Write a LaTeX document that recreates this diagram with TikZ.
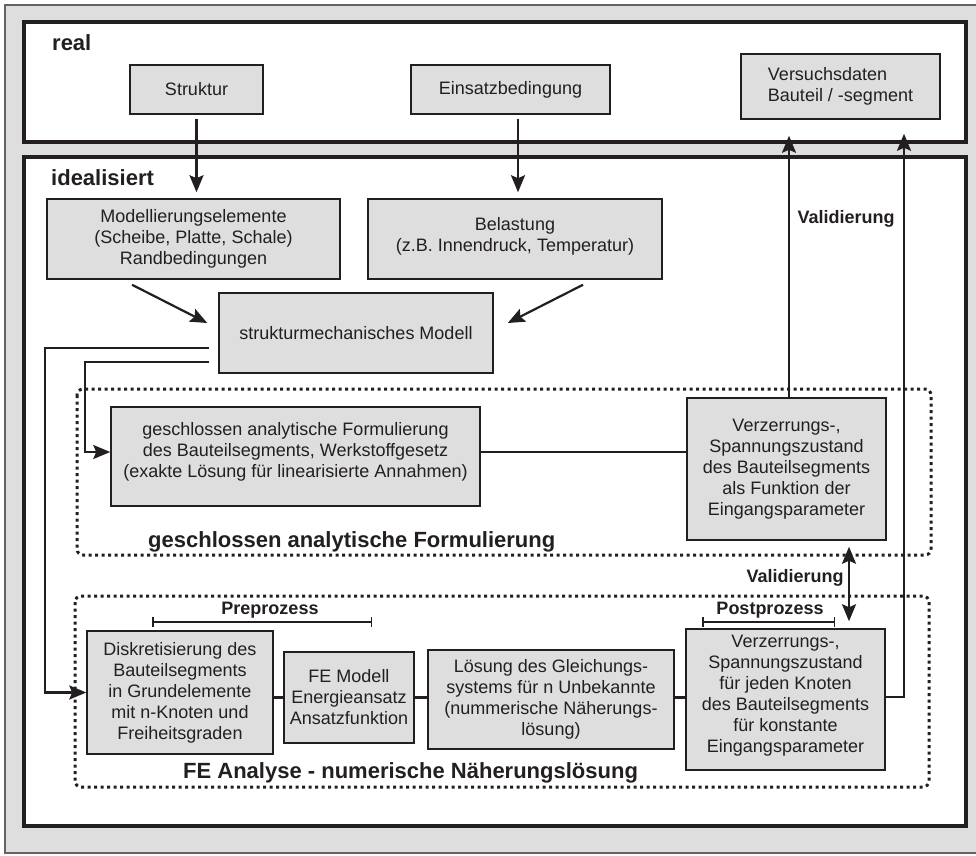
\documentclass[tikz,border=0pt]{standalone}
\usepackage{fontspec}
\setmainfont{Liberation Sans}
\usetikzlibrary{arrows.meta,calc}
\definecolor{bgray}{RGB}{222,222,222}
\definecolor{ink}{RGB}{35,31,32}
\begin{document}
\begin{tikzpicture}[x=1pt,y=-1pt,
 box/.style={draw=ink, line width=1.5pt, fill=bgray, inner sep=0pt, align=center, font=\fontsize{18}{21}\selectfont, text=ink},
 txt/.style={inner sep=0pt, align=center, font=\fontsize{18}{21}\selectfont, text=ink},
 conn/.style={draw=ink, line width=2.2pt},
 arr/.style={conn, -{Stealth[length=17pt,width=14pt,inset=3pt]}},
 dbl/.style={conn, {Stealth[length=17pt,width=14pt,inset=3pt]}-{Stealth[length=17pt,width=14pt,inset=3pt]}},
 brack/.style={draw=ink, line width=1.5pt, {Bar[width=10pt,line width=1.5pt]}-{Bar[width=10pt,line width=1.5pt]}},
 dotbox/.style={draw=ink, line width=3pt, dash pattern=on 3pt off 3.5pt, rounded corners=6pt},
 blabel/.style={inner sep=0pt, font=\fontsize{22}{26}\selectfont\bfseries, text=ink, anchor=base west},
 slabel/.style={inner sep=0pt, font=\fontsize{18}{21}\selectfont\bfseries, text=ink, anchor=base},
 region/.style={draw=ink, line width=4pt, fill=white}
]
\useasboundingbox (0,0) rectangle (976,855);
% background
\draw[fill=bgray, draw=ink!70, line width=1.5pt] (5,5) rectangle (990,853);
\draw[region] (24,22) rectangle (966,142);
\draw[region] (24,157) rectangle (966,826);
% region labels
\node[blabel] (lreal) at (52,50) {real};
\node[blabel] (lideal) at (51,185) {idealisiert};
% dotted groups
\draw[dotbox] (77,389) rectangle (931,555);
\draw[dotbox] (75,596) rectangle (929,787);
\node[blabel] (lgaf) at (148,547) {geschlossen analytische Formulierung};
\node[blabel] (lfe) at (183,778) {FE Analyse - numerische Näherungslösung};
% boxes real
\node[box, minimum width=133pt, minimum height=49pt] (struktur) at (196.5,89.5) {Struktur};
\node[box, minimum width=199pt, minimum height=49pt] (einsatz) at (510.5,89.5) {Einsatzbedingung};
\node[box, minimum width=199pt, minimum height=65pt, align=left] (versuch) at (840.5,86.5) {Versuchsdaten\\Bauteil / -segment};
% boxes idealisiert
\node[box, minimum width=293pt, minimum height=80pt] (modell) at (193.5,239) {Modellierungselemente\\(Scheibe, Platte, Schale)\\Randbedingungen};
\node[box, minimum width=294pt, minimum height=80pt] (belast) at (515,239) {};
\node[txt] (belasttxt) at (515,236) {Belastung\\(z.B. Innendruck, Temperatur)};
\node[box, minimum width=274pt, minimum height=80pt] (smm) at (356,333) {strukturmechanisches Modell};
\node[box, minimum width=369pt, minimum height=99pt] (gaf) at (295.5,456.5) {};
\node[txt] (gaftxt) at (295.5,451.5) {geschlossen analytische Formulierung\\des Bauteilsegments, Werkstoffgesetz\\(exakte Lösung für linearisierte Annahmen)};
\node[box, minimum width=199pt, minimum height=142pt] (vone) at (786.5,469) {Verzerrungs-,\\Spannungszustand\\des Bauteilsegments\\als Funktion der\\Eingangsparameter};
\node[box, minimum width=186pt, minimum height=123pt] (disk) at (180,692.5) {Diskretisierung des\\Bauteilsegments\\in Grundelemente\\mit n-Knoten und\\Freiheitsgraden};
\node[box, minimum width=130pt, minimum height=91pt] (fem) at (349,697.5) {FE Modell\\Energieansatz\\Ansatzfunktion};
\node[box, minimum width=246pt, minimum height=99pt] (loes) at (551,699.5) {Lösung des Gleichungs-\\systems für n Unbekannte\\(nummerische Näherungs-\\lösung)};
\node[box, minimum width=199pt, minimum height=141pt] (vtwo) at (785.5,699.5) {};
\node[txt] (vtwotxt) at (785.5,696) {Verzerrungs-,\\Spannungszustand\\für jeden Knoten\\des Bauteilsegments\\für konstante\\Eingangsparameter};
% small labels
\node[slabel] (lval1) at (846,223) {Validierung};
\node[slabel] (lval2) at (795,582) {Validierung};
\node[slabel] (lpre) at (270,614) {Preprozess};
\node[slabel] (lpost) at (770,614) {Postprozess};
\draw[brack] (152,622) -- (372,622);
\draw[brack] (702,622) -- (835,622);
% connectors
\draw[arr] ($(struktur.south)+(0,4)$) -- ($(modell.north -| struktur.south)+(0,-6)$);
\draw[arr] ($(einsatz.south)+(7.5,4)$) -- ($(belast.north)+(3,-6)$);
\draw[arr] ($(modell.south)+(-61.5,5)$) -- ($(smm.west)+(-11,-10)$);
\draw[arr] ($(belast.south)+(68,5)$) -- ($(smm.east)+(14,-10)$);
\draw[arr] ($(smm.west)+(-9,15)$) -| ($(disk.west)+(-41,0)$) -- (disk.west);
\draw[arr] ($(smm.west)+(-9,29)$) -| ($(gaf.west)+(-25,-4.5)$) -- ($(gaf.west)+(0,-4.5)$);
\draw[conn] ($(gaf.east)+(0,-4.5)$) -- ($(vone.west)+(0,-17)$);
\draw[arr] ($(vone.north)+(2.5,0)$) -- ($(versuch.south)+(-51.5,16)$);
\draw[arr] ($(vtwo.east)+(0,-2.5)$) -| ($(versuch.south)+(63.5,14)$);
\draw[dbl] ($(vone.south)+(62.5,6)$) -- ($(vtwo.north)+(63.5,-7)$);
\draw[conn] (disk.east |- fem.west) -- (fem.west);
\draw[conn] (fem.east) -- (fem.east -| loes.west);
\draw[conn] (loes.east |- fem.east) -- (vtwo.west |- fem.east);
\end{tikzpicture}
\end{document}
